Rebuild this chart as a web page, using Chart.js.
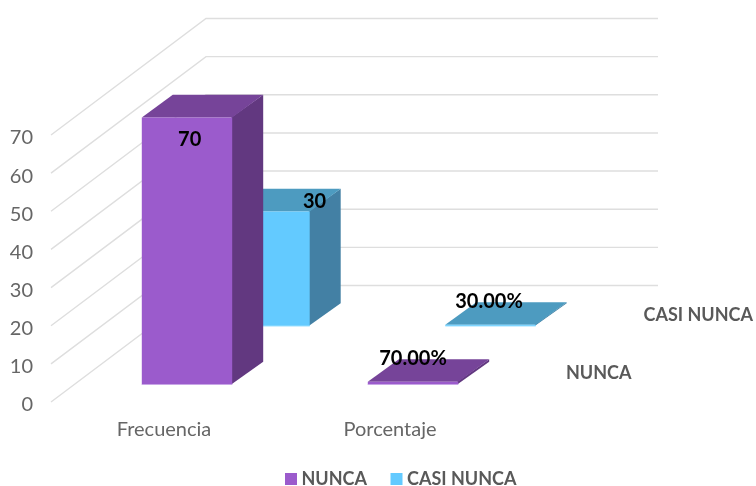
<!DOCTYPE html>
<html>
<head>
<meta charset="utf-8">
<style>
  html, body { margin: 0; padding: 0; background: #fff; }
</style>
<script src="https://cdn.jsdelivr.net/npm/chart.js@4/dist/chart.umd.min.js"></script>
</head>
<body>
<canvas id="myChart" width="756" height="486"></canvas>
<script>
const categories = ['Frecuencia', 'Porcentaje'];
const nuncaValues = [70, 0.7];
const casiNuncaValues = [30, 0.3];
const nuncaLabels = ['70', '70.00%'];
const casiNuncaLabels = ['30', '30.00%'];

// oblique projection of the fake 3d box
const wallShift = { x: 155, y: -116.5 };
const barDepth = { x: 31, y: -22.7 };
const rowShift = [{ x: 23, y: -17.5 }, { x: 100.5, y: -76 }];
const rowLabelGap = 40;
// hand placed data labels, [row][category]
const labelShift = [
    [{ x: 2.7, y: 21.7 }, { x: 0, y: -23 }],
    [{ x: 50, y: -10.3 }, { x: -1.5, y: -23 }]
];
const shades = [
    { top: '#764499', side: '#623880', edge: '#c8a6e6' },
    { top: '#4d9bc0', side: '#4380a4', edge: '#9be0ff' }
];
const fontName = 'Lato, sans-serif';

function poly(ctx, pts, color) {
    ctx.fillStyle = color;
    ctx.beginPath();
    pts.forEach((p, i) => i ? ctx.lineTo(p[0], p[1]) : ctx.moveTo(p[0], p[1]));
    ctx.closePath();
    ctx.fill();
}

const fake3d = {
    id: 'fake3d',
    afterLayout(chart) {
        // legend sits lower and further right than chart.js would put it
        const pad = chart.legend.options.labels.padding;
        chart.legend.top = 479 - 9 - pad;
        chart.legend.left = 289.5 - pad;
        chart.legend.right = 756;
        // the x axis box is squeezed by the tall legend, labels get clipped otherwise
        chart.scales.x.bottom = 486;
    },
    beforeDatasetsDraw(chart) {
        const ctx = chart.ctx;
        const yScale = chart.scales.y;
        const area = chart.chartArea;
        ctx.save();

        // side wall and back wall lines
        ctx.strokeStyle = '#dedede';
        ctx.lineWidth = 1.4;
        yScale.ticks.forEach(t => {
            const y = yScale.getPixelForValue(t.value);
            ctx.beginPath();
            ctx.moveTo(area.left, y);
            ctx.lineTo(area.left + wallShift.x, y + wallShift.y);
            ctx.lineTo(area.right + wallShift.x, y + wallShift.y);
            ctx.stroke();
        });

        // back row first so the front row covers it
        for (let d = chart.data.datasets.length - 1; d >= 0; d--) {
            const shift = rowShift[d];
            const shade = shades[d];
            chart.getDatasetMeta(d).data.forEach(bar => {
                const x0 = bar.x - bar.width / 2 + shift.x;
                const x1 = bar.x + bar.width / 2 + shift.x;
                const top = bar.y + shift.y;
                const bottom = bar.base + shift.y;
                const dx = barDepth.x, dy = barDepth.y;
                // side starts a bit under the front face, no seam
                poly(ctx, [[x1 - 1, top], [x1 + dx, top + dy], [x1 + dx, bottom + dy], [x1 - 1, bottom]], shade.side);
                poly(ctx, [[x0, top], [x0 + dx, top + dy], [x1 + dx, top + dy], [x1, top]], shade.top);
                poly(ctx, [[x0, top], [x1, top], [x1, bottom], [x0, bottom]], chart.data.datasets[d].backgroundColor);
                ctx.strokeStyle = shade.edge;
                ctx.lineWidth = 1;
                ctx.beginPath();
                ctx.moveTo(x0, bottom);
                ctx.lineTo(x1, bottom);
                ctx.stroke();
            });
        }

        // series names on the depth axis
        ctx.font = 'bold 18px ' + fontName;
        ctx.fillStyle = '#595959';
        ctx.textAlign = 'left';
        ctx.textBaseline = 'middle';
        chart.data.datasets.forEach((ds, d) => {
            const base = yScale.getPixelForValue(0) + rowShift[d].y;
            ctx.fillText(ds.label, area.right + rowShift[d].x + rowLabelGap, base - 11);
        });

        // data labels
        ctx.font = 'bold 20px ' + fontName;
        ctx.fillStyle = '#000';
        ctx.textAlign = 'center';
        [nuncaLabels, casiNuncaLabels].forEach((texts, d) => {
            chart.getDatasetMeta(d).data.forEach((bar, i) => {
                const s = labelShift[d][i];
                ctx.fillText(texts[i], bar.x + rowShift[d].x + s.x, bar.y + rowShift[d].y + s.y);
            });
        });

        ctx.restore();
        return false;
    }
};

new Chart(document.getElementById('myChart').getContext('2d'), {
    type: 'bar',
    data: {
        labels: categories,
        datasets: [
            // the thick border makes the small legend box 12px and pulls the text closer
            { label: 'NUNCA', data: nuncaValues, backgroundColor: '#9b5bcc', borderColor: '#9b5bcc', borderWidth: 9 },
            { label: 'CASI NUNCA', data: casiNuncaValues, backgroundColor: '#63caff', borderColor: '#63caff', borderWidth: 9 }
        ]
    },
    options: {
        responsive: false,
        animation: false,
        grouped: false,
        barPercentage: 0.4,
        categoryPercentage: 1,
        layout: { padding: { top: 135, right: 253, left: 0, bottom: 0 } },
        scales: {
            x: {
                grid: { display: false },
                border: { display: false },
                ticks: { color: '#666', padding: 8, font: { family: fontName, size: 20 }, maxRotation: 0 },
                afterFit(scale) {
                    scale.height = 84 - scale.chart.legend.height;
                }
            },
            y: {
                min: 0,
                max: 70,
                grid: { display: false },
                border: { display: false },
                ticks: { color: '#666', stepSize: 10, padding: 10, labelOffset: 3, font: { family: fontName, size: 20 } },
                afterFit(scale) {
                    scale.width = 51;
                }
            }
        },
        plugins: {
            tooltip: { enabled: false },
            legend: {
                position: 'bottom',
                align: 'start',
                labels: {
                    boxWidth: 3,
                    boxHeight: 3,
                    padding: 28,
                    color: '#595959',
                    font: { family: fontName, size: 18, weight: 'bold' }
                }
            }
        }
    },
    plugins: [fake3d]
});
</script>
</body>
</html>
